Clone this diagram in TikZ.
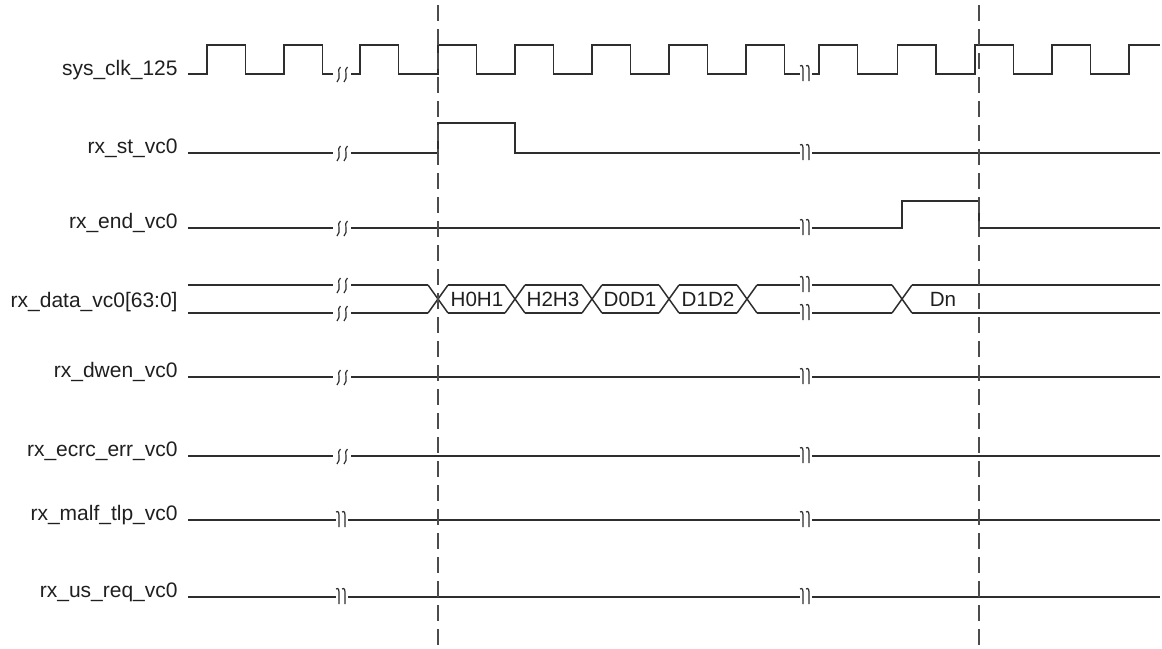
\documentclass[tikz,border=0pt]{standalone}
\usepackage{fontspec}
\setmainfont{Liberation Sans}

\begin{document}
\begin{tikzpicture}
[x=0.5pt,y=-0.5pt,%
  sigdecorate/.style={-,line width=0.75pt,color=black!82},%
  markdecorate/.style={-,line width=0.6pt,color=black!82},%
  cutdecorate/.style={-,line width=0.6pt,color=black!70,dash pattern=on 8pt off 4pt},%
  labeldecorate/.style={anchor=base east,inner sep=0pt,color=black!88,%
    font=\fontsize{10.5}{12.6}\selectfont},%
  celldecorate/.style={inner sep=0pt,color=black!88,%
    font=\fontsize{10.3}{12.4}\selectfont},%
  breaks/.pic={\fill[white] (-9,-4) rectangle (9,4);
    \draw[markdecorate] (-1.5,-7) .. controls (-6,-5) and (0,4) .. (-5,8)
      (5.5,-7) .. controls (1,-5) and (7,4) .. (2,8);},%
  breakh/.pic={\fill[white] (-6,-4) rectangle (6,4);
    \draw[markdecorate] (-6,-8) .. controls (-3,-10) and (-3,-6) .. (-3,-3) -- (-3,7)
      (0,-8) .. controls (3,-10) and (3,-6) .. (3,-3) -- (3,7);}]
\useasboundingbox (0,0) rectangle (1162,648);

%% signal names
\foreach \nodename/\y/\txt in {clk/75/sys\_clk\_125, st/153/rx\_st\_vc0,
  end/228/rx\_end\_vc0, data/307/rx\_data\_vc0[63:0], dwen/377/rx\_dwen\_vc0,
  ecrc/456/rx\_ecrc\_err\_vc0, malf/520/rx\_malf\_tlp\_vc0, usreq/597/rx\_us\_req\_vc0}
{
  \node (\nodename) at (178,\y) [labeldecorate] {\txt};
}

%% clock
\draw[sigdecorate] (188,74)
  \foreach \t in {207,284,360,438,515,592,669,746} {
    -- (\t,74) -- (\t,45) -- (\t+38.6,45) -- (\t+38.6,74) }
  \foreach \t in {819,897.5,975,1052} {
    -- (\t,74) -- (\t,45) -- (\t+38.6,45) -- (\t+38.6,74) }
  -- (1129,74) -- (1129,45) -- (1160,45);

%% single bit signals
\draw[sigdecorate] (188,153) -- (438,153) -- (438,123) -- (515,123) -- (515,153) -- (1160,153);
\draw[sigdecorate] (188,228) -- (902,228) -- (902,201) -- (979,201) -- (979,228) -- (1160,228);
\foreach \y in {377,456,520,597}
{
  \draw[sigdecorate] (188,\y) -- (1160,\y);
}

%% data bus
\foreach \a/\b in {188/428, 448/505, 525/582, 602/659, 679/737, 757/892, 912/1160}
{
  \draw[sigdecorate] (\a,285) -- (\b,285) (\a,313) -- (\b,313);
}
\foreach \c in {438,515,592,669,747,902}
{
  \draw[sigdecorate] (\c-10,285) -- (\c+10,313) (\c-10,313) -- (\c+10,285);
}
\foreach \nodename/\x/\txt in {h01/477/H0H1, h23/553/H2H3, d01/630/D0D1,
  d12/708/D1D2, dn/943/Dn}
{
  \node (\nodename) at (\x,299) [celldecorate] {\txt};
}

%% time breaks
\foreach \y in {74,153,228,285,313,377,456}
{
  \path (342,\y) pic {breaks};
}
\foreach \y in {520,597}
{
  \path (342,\y) pic {breakh};
}
\foreach \y in {74,153,228,285,313,377,456,520,597}
{
  \path (806,\y) pic {breakh};
}

%% cursors
\draw[cutdecorate] (438,5) -- (438,645);
\draw[cutdecorate] (979,5) -- (979,645);
\end{tikzpicture}
\end{document}
